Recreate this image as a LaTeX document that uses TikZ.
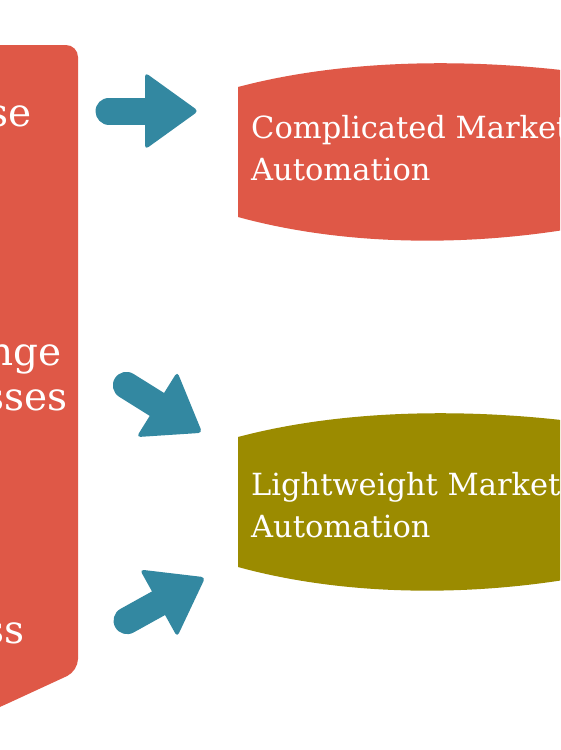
\documentclass[tikz,border=0pt]{standalone}
\usepackage{fontspec}
\setmainfont{DejaVu Serif}
\definecolor{boxred}{RGB}{223,88,71}
\definecolor{arrowteal}{RGB}{51,136,161}
\definecolor{olive}{RGB}{155,139,0}
\tikzset{
  lefttext/.style={anchor=base east, inner sep=0pt, text=white, font=\fontsize{39}{45}\selectfont},
  righttext/.style={anchor=base west, inner sep=0pt, text=white, font=\fontsize{30.5}{42}\selectfont},
  blockarrow/.pic={
    \draw[arrowteal, line width=27pt, line cap=round] (-88,0) -- (-50,0);
    \fill[arrowteal, rounded corners=4pt] (-52,-38.5) -- (1.5,0) -- (-52,38.5) -- cycle;
  }
}
\begin{document}
\begin{tikzpicture}[x=1pt,y=-1pt]
\useasboundingbox (0,0) rectangle (560,750);
\clip (0,0) rectangle (560,750);
\fill[white] (0,0) rectangle (560,750);
% left box
\fill[boxred, rounded corners=12pt] (-30,45) -- (78,45) -- (78,671) -- (0,707) -- (-30,720) -- cycle;
\node[lefttext] (t1) at (32,126) {se};
\node[lefttext] (t2) at (62,365) {nge};
\node[lefttext] (t3) at (68,410) {sses};
\node[lefttext] (t4) at (25,643) {ss};
% right shapes
\fill[boxred] (238,87) .. controls (340,60) and (460,58) .. (570,71) -- (570,229)
  .. controls (460,247) and (340,245) .. (238,217) -- cycle;
\fill[olive] (238,437) .. controls (340,410) and (460,408) .. (570,421) -- (570,579)
  .. controls (460,597) and (340,595) .. (238,567) -- cycle;
\node[righttext] (c1) at (251,138) {Complicated Market};
\node[righttext] (c2) at (251,180) {Automation};
\node[righttext] (l1) at (251,495) {Lightweight Market};
\node[righttext] (l2) at (251,537) {Automation};
% arrows
\pic[shift={(197,111)}] {blockarrow};
\pic[shift={(201,432)}, rotate=-32] {blockarrow};
\pic[shift={(204,578)}, rotate=29] {blockarrow};
\end{tikzpicture}
\end{document}
